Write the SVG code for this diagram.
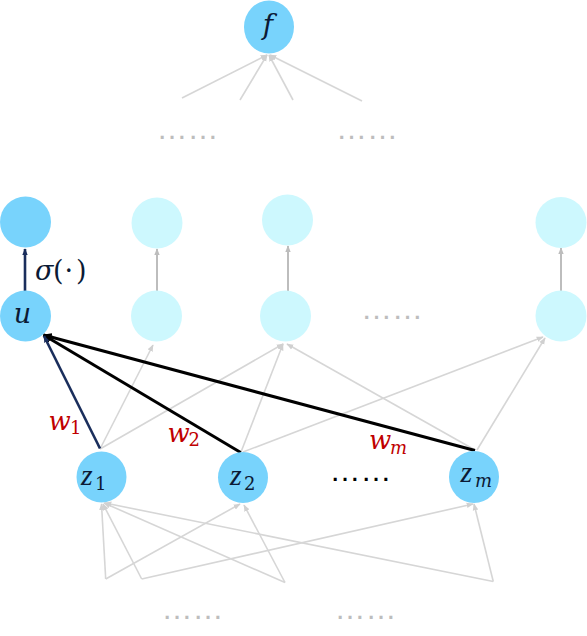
<svg xmlns="http://www.w3.org/2000/svg" width="587" height="636" viewBox="0 0 587 636">
<style>
.blue{fill:#78D3FC;}
.cyan{fill:#CDF8FE;}
.lg{stroke:#D6D6D6;stroke-width:1.6;fill:none;}
.vg{stroke:#BDBDBD;stroke-width:2;fill:none;}
.bk{stroke:#000;stroke-width:3;fill:none;}
.nv{stroke:#1A2E5C;stroke-width:2.6;fill:none;}
.m{font-family:"DejaVu Serif","Liberation Serif",serif;font-style:italic;fill:#0B1A35;}
.z{font-family:"Liberation Serif","DejaVu Serif",serif;font-style:italic;fill:#0B1A35;}
.sub{font-family:"DejaVu Serif","Liberation Serif",serif;fill:#0B1A35;}
.w{font-family:"DejaVu Serif","Liberation Serif",serif;font-style:italic;fill:#C00000;}
.ws{font-family:"DejaVu Serif","Liberation Serif",serif;fill:#C00000;}
.dots{font-family:"Liberation Sans",Arial,sans-serif;font-size:31px;text-anchor:middle;}
</style>
<defs>
<marker id="ak" viewBox="0 0 10 10" refX="9" refY="5" markerWidth="9" markerHeight="9" markerUnits="userSpaceOnUse" orient="auto"><path d="M0,0.5 L10,5 L0,9.5 z" fill="#000"/></marker>
<marker id="an" viewBox="0 0 10 10" refX="9" refY="5" markerWidth="7" markerHeight="7" markerUnits="userSpaceOnUse" orient="auto"><path d="M0,1 L10,5 L0,9 z" fill="#1A2E5C"/></marker>
<marker id="ag" viewBox="0 0 10 10" refX="9" refY="5" markerWidth="7" markerHeight="7" markerUnits="userSpaceOnUse" orient="auto"><path d="M0,1 L10,5 L0,9 z" fill="#D0D0D0"/></marker>
<marker id="av" viewBox="0 0 10 10" refX="9" refY="5" markerWidth="7" markerHeight="7" markerUnits="userSpaceOnUse" orient="auto"><path d="M0,1 L10,5 L0,9 z" fill="#BDBDBD"/></marker>
</defs>
<rect width="587" height="636" fill="#fff"/>
<g id="connectors">
  <line class="lg" x1="182" y1="98" x2="267" y2="55" marker-end="url(#ag)"/>
  <line class="lg" x1="240" y1="100" x2="267" y2="55" marker-end="url(#ag)"/>
  <line class="lg" x1="293" y1="100" x2="269" y2="55" marker-end="url(#ag)"/>
  <line class="lg" x1="362" y1="101" x2="270" y2="55" marker-end="url(#ag)"/>
  <line class="nv" x1="25" y1="291" x2="25" y2="249" marker-end="url(#an)"/>
  <line class="vg" x1="157" y1="291" x2="157" y2="249" marker-end="url(#av)"/>
  <line class="vg" x1="288" y1="291" x2="288" y2="246" marker-end="url(#av)"/>
  <line class="vg" x1="561" y1="291" x2="561" y2="248" marker-end="url(#av)"/>
  <line class="lg" x1="100" y1="449" x2="153" y2="345" marker-end="url(#ag)"/>
  <line class="lg" x1="100" y1="449" x2="283" y2="344" marker-end="url(#ag)"/>
  <line class="lg" x1="241" y1="452" x2="283" y2="344" marker-end="url(#ag)"/>
  <line class="lg" x1="243" y1="452" x2="543" y2="337" marker-end="url(#ag)"/>
  <line class="lg" x1="475" y1="450" x2="287" y2="344" marker-end="url(#ag)"/>
  <line class="lg" x1="477" y1="450" x2="545" y2="338" marker-end="url(#ag)"/>
  <line class="bk" x1="475" y1="450.5" x2="43.5" y2="335" marker-end="url(#ak)"/>
  <line class="bk" x1="240.7" y1="452.5" x2="43.5" y2="335" marker-end="url(#ak)"/>
  <line class="nv" x1="100" y1="448.5" x2="44" y2="336" marker-end="url(#an)"/>
  <line class="lg" x1="105.7" y1="579" x2="101.5" y2="504" marker-end="url(#ag)"/>
  <line class="lg" x1="105.7" y1="579" x2="240" y2="504" marker-end="url(#ag)"/>
  <line class="lg" x1="141.7" y1="579" x2="103" y2="504" marker-end="url(#ag)"/>
  <line class="lg" x1="141.7" y1="579" x2="473" y2="504" marker-end="url(#ag)"/>
  <line class="lg" x1="285" y1="582.5" x2="104" y2="503" marker-end="url(#ag)"/>
  <line class="lg" x1="285" y1="582.5" x2="244" y2="505" marker-end="url(#ag)"/>
  <line class="lg" x1="493.3" y1="581.5" x2="105" y2="503" marker-end="url(#ag)"/>
  <line class="lg" x1="493.3" y1="581.5" x2="474" y2="504" marker-end="url(#ag)"/>
</g>
<g id="node-f">
  <ellipse class="blue" cx="269" cy="27" rx="25" ry="26.5"/>
  <text class="m" x="268" y="34" font-size="28" text-anchor="middle">f</text>
</g>
<g id="dots-top">
  <text class="dots" x="187.5" y="139" fill="#BDBDBD">……</text>
  <text class="dots" x="367" y="139" fill="#BDBDBD">……</text>
</g>
<g id="node-a1"><circle class="blue" cx="25.5" cy="222" r="25.5"/></g>
<g id="node-a2"><circle class="cyan" cx="157" cy="223" r="25.5"/></g>
<g id="node-a3"><circle class="cyan" cx="287.5" cy="220" r="25.5"/></g>
<g id="node-a5"><circle class="cyan" cx="561" cy="222.5" r="25.5"/></g>
<g id="label-sigma">
  <text class="sub" y="280" font-size="27" fill="#111"><tspan x="35" font-style="italic">σ</tspan><tspan x="53">(</tspan><tspan x="64.5">·</tspan><tspan x="76">)</tspan></text>
</g>
<g id="node-u">
  <circle class="blue" cx="25.5" cy="316" r="25.5"/>
  <text class="m" x="22.5" y="323" font-size="27" text-anchor="middle">u</text>
</g>
<g id="node-h2"><circle class="cyan" cx="156.5" cy="316" r="25.5"/></g>
<g id="node-h3"><circle class="cyan" cx="285.5" cy="316" r="25.5"/></g>
<g id="dots-mid">
  <text class="dots" x="392" y="319" fill="#BDBDBD">……</text>
</g>
<g id="node-h5"><circle class="cyan" cx="561" cy="316" r="25.5"/></g>
<g id="labels-w">
  <text class="w" x="48.5" y="430" font-size="26">w</text><text class="ws" x="70" y="434" font-size="18">1</text>
  <text class="w" x="167.5" y="442" font-size="26">w</text><text class="ws" x="188.5" y="446" font-size="18">2</text>
  <text class="w" x="369" y="449" font-size="26">w</text><text class="w" x="390" y="454" font-size="18">m</text>
</g>
<g id="node-z1">
  <ellipse class="blue" cx="101.5" cy="477" rx="25" ry="25.5"/>
  <text class="z" x="81" y="485" font-size="30">z</text><text class="sub" x="95" y="490" font-size="18">1</text>
</g>
<g id="node-z2">
  <ellipse class="blue" cx="243" cy="477.5" rx="25" ry="25.5"/>
  <text class="z" x="230" y="485" font-size="30">z</text><text class="sub" x="244" y="490" font-size="18">2</text>
</g>
<g id="dots-z">
  <text class="dots" x="360.5" y="480.5" fill="#000">……</text>
</g>
<g id="node-zm">
  <ellipse class="blue" cx="474" cy="477" rx="25" ry="26"/>
  <text class="z" x="460.5" y="482" font-size="30">z</text><text class="m" x="475" y="487" font-size="18">m</text>
</g>
<g id="dots-bottom">
  <text class="dots" x="192.5" y="618.5" fill="#BDBDBD">……</text>
  <text class="dots" x="365.5" y="618.5" fill="#BDBDBD">……</text>
</g>
</svg>
